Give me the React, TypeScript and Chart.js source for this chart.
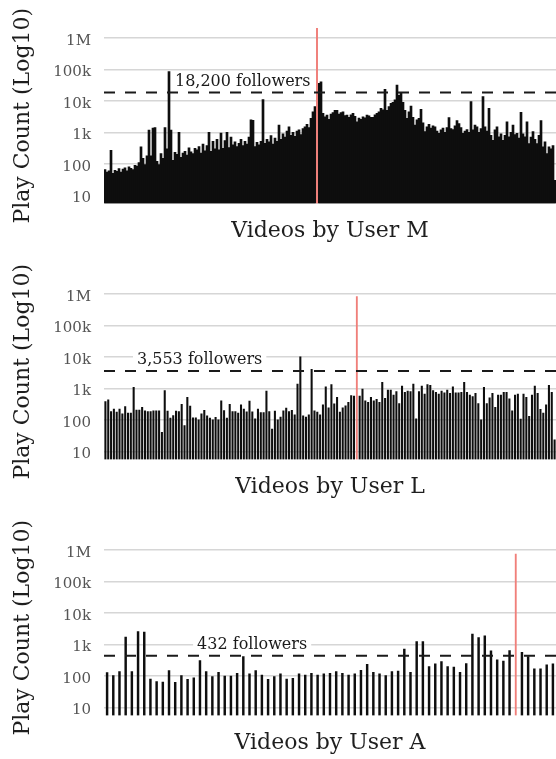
import React, { useEffect, useRef } from "react";
import { Chart, registerables } from "chart.js";

Chart.register(...registerables);

// ---------- shared axis ticks ----------
const tickValues = [10, 100, 1000, 10000, 100000, 1000000];
const tickLabels = ["10", "100", "1k", "10k", "100k", "1M"];

// ---------- User M ----------
const userMPlays = [
  65, 55, 60, 270, 50, 62, 58, 70, 55, 68,
  75, 60, 80, 72, 65, 90, 85, 110, 345, 150,
  95, 180, 1170, 180, 1350, 1400, 120, 95, 210, 150,
  1400, 300, 85000, 1170, 130, 230, 200, 1000, 160, 220,
  250, 190, 320, 240, 210, 310, 280, 350, 220, 420,
  260, 380, 1000, 250, 520, 300, 600, 280, 950, 310,
  550, 1000, 330, 700, 400, 500, 350, 450, 600, 380,
  520, 420, 700, 2500, 2400, 350, 480, 400, 520, 11000,
  450, 600, 500, 780, 420, 650, 520, 1700, 600, 900,
  700, 1100, 1500, 800, 1000, 750, 1100, 1200, 850, 1300,
  1500, 1800, 1400, 2750, 4500, 6500, 2000000, 36000, 40000, 4000,
  3100, 3500, 2600, 3800, 4200, 5000, 5000, 3800, 4200, 4500,
  3400, 3500, 3000, 3600, 4000, 3200, 2150, 2800, 2600, 3100,
  2900, 3500, 3300, 3000, 3000, 3600, 4000, 4500, 5800, 5200,
  23000, 5000, 6500, 8300, 9000, 10700, 31600, 15000, 18000, 9000,
  5000, 2750, 4500, 6800, 3000, 1700, 2500, 2750, 5400, 2000,
  1050, 1500, 1800, 1350, 1600, 1500, 1100, 920, 1200, 1350,
  1000, 1400, 2950, 1300, 1230, 1600, 2350, 1900, 1400, 920,
  1100, 1230, 1000, 9400, 1200, 1700, 1500, 1000, 1300, 13500,
  1500, 1100, 5800, 800, 560, 1200, 1500, 720, 900, 560,
  800, 2150, 720, 1000, 1700, 850, 920, 650, 4300, 900,
  720, 2150, 440, 700, 1050, 600, 440, 800, 2350, 345,
  500, 210, 345, 300, 380, 30,
];
const userMHighlight = 106;
const userMFollowers = 18200;

// ---------- User L ----------
const userLPlays = [
  380, 430, 183, 220, 175, 220, 155, 265, 162, 162,
  1070, 205, 205, 250, 192, 183, 183, 192, 192, 192,
  40, 840, 188, 113, 137, 188, 183, 310, 65, 520,
  275, 116, 116, 100, 155, 200, 134, 113, 100, 119,
  100, 400, 197, 113, 310, 183, 183, 162, 300, 220,
  179, 390, 179, 107, 220, 170, 170, 820, 183, 51,
  188, 100, 121, 192, 235, 183, 200, 144, 1370, 10000,
  134, 121, 144, 4000, 192, 175, 144, 300, 1120, 240,
  1300, 320, 520, 175, 240, 280, 360, 585, 570, 820000,
  570, 950, 400, 360, 520, 400, 450, 360, 1550, 480,
  880, 880, 610, 780, 330, 1180, 740, 820, 780, 1350,
  107, 780, 1180, 660, 1300, 1240, 840, 740, 660, 820,
  720, 880, 690, 1120, 720, 720, 740, 1550, 740, 610,
  545, 690, 330, 100, 1070, 330, 500, 690, 250, 610,
  610, 740, 740, 460, 192, 610, 660, 105, 660, 520,
  128, 610, 1180, 690, 215, 162, 300, 1240, 740, 23,
];
const userLHighlight = 89;
const userLFollowers = 3553;

// ---------- User A ----------
const userAPlays = [
  126, 101, 136, 1680, 136, 2540, 2450, 79, 65, 63,
  146, 62, 101, 77, 87, 302, 136, 94, 130, 98,
  98, 120, 407, 115, 146, 105, 77, 94, 115, 79,
  83, 115, 105, 120, 105, 115, 120, 136, 120, 105,
  115, 150, 233, 130, 115, 101, 136, 141, 700, 130,
  1220, 1220, 195, 238, 282, 195, 188, 130, 245, 2100,
  1630, 1850, 616, 319, 295, 630, 733000, 560, 407, 165,
  165, 221, 238,
];
const userAHighlight = 66;
const userAFollowers = 432;

const FONT = "'DejaVu Serif', serif";
const BAR_COLOR = "#0e0e0e";
const HIGHLIGHT_COLOR = "#f07f7a";

type PanelDef = {
  user: string;
  plays: number[];
  highlight: number;
  followers: number;
  labelFrac: number;
  barW: number;
  hiW: number;
};

const panels: PanelDef[] = [
  { user: "M", plays: userMPlays, highlight: userMHighlight, followers: userMFollowers, labelFrac: 0.157, barW: 2, hiW: 1.3 },
  { user: "L", plays: userLPlays, highlight: userLHighlight, followers: userLFollowers, labelFrac: 0.073, barW: 1.4, hiW: 1.2 },
  { user: "A", plays: userAPlays, highlight: userAHighlight, followers: userAFollowers, labelFrac: 0.206, barW: 1.8, hiW: 1.2 },
];

const followerLinePlugin = {
  id: "followerLine",
  afterDatasetsDraw(chart: any, _args: any, opts: any) {
    const { ctx, chartArea, scales } = chart;
    const y = scales.y.getPixelForValue(opts.value);
    ctx.save();
    ctx.strokeStyle = "#1a1a1a";
    ctx.lineWidth = 2;
    ctx.setLineDash([11, 10]);
    ctx.beginPath();
    ctx.moveTo(chartArea.left, y);
    ctx.lineTo(chartArea.right, y);
    ctx.stroke();
    ctx.setLineDash([]);
    ctx.font = `16px ${FONT}`;
    const text: string = opts.text;
    const w = ctx.measureText(text).width;
    const x = chartArea.left + opts.frac * (chartArea.right - chartArea.left);
    const cy = y - 11;
    ctx.fillStyle = "#ffffff";
    ctx.fillRect(x - 4, cy - 8, w + 8, 16);
    ctx.fillStyle = "#1a1a1a";
    ctx.textBaseline = "middle";
    ctx.textAlign = "left";
    ctx.fillText(text, x, cy);
    ctx.restore();
  },
};

function Panel({ def }: { def: PanelDef }) {
  const ref = useRef<HTMLCanvasElement | null>(null);
  useEffect(() => {
    if (!ref.current) return;
    const labels = def.plays.map((_, i) => String(i + 1));
    const black = def.plays.map((v, i) => (i === def.highlight ? null : v));
    const red = def.plays.map((v, i) => (i === def.highlight ? v : null));
    const chart = new Chart(ref.current, {
      type: "bar",
      data: {
        labels,
        datasets: [
          { data: red, backgroundColor: HIGHLIGHT_COLOR, barThickness: def.hiW, grouped: false } as any,
          { data: black, backgroundColor: BAR_COLOR, barThickness: def.barW, grouped: false } as any,
        ],
      },
      options: {
        responsive: false,
        animation: false,
        devicePixelRatio: 1,
        layout: { padding: { top: 28, left: 0, right: 0, bottom: 0 } },
        plugins: {
          legend: { display: false },
          tooltip: { enabled: false },
          followerLine: {
            value: def.followers,
            text: `${def.followers.toLocaleString("en-US")} followers`,
            frac: def.labelFrac,
          },
        } as any,
        scales: {
          x: {
            type: "category",
            offset: true,
            grid: { display: false },
            border: { display: false },
            ticks: { display: false },
            title: {
              display: true,
              text: `Videos by User ${def.user}`,
              font: { family: FONT, size: 22 },
              color: "#1e1e1e",
              padding: { top: 0, bottom: 12 },
            },
            afterFit: (s: any) => {
              s.height = 52.5;
            },
          },
          y: {
            type: "logarithmic",
            min: 5.5,
            max: 2040000,
            afterBuildTicks: (s: any) => {
              s.ticks = tickValues.map((v) => ({ value: v }));
            },
            ticks: {
              callback: (v: any) => {
                const k = tickValues.indexOf(Number(v));
                return k >= 0 ? tickLabels[k] : "";
              },
              font: { family: FONT, size: 15 },
              color: "#555555",
              padding: 13,
              labelOffset: 3,
            },
            grid: { color: "#d6d6d6", lineWidth: 1.5, drawTicks: false },
            border: { display: false },
            title: {
              display: true,
              text: "Play Count (Log10)",
              font: { family: FONT, size: 22 },
              color: "#1e1e1e",
              padding: { top: 10, bottom: 0 },
            },
            afterFit: (s: any) => {
              s.width = 104;
            },
          },
        } as any,
      },
      plugins: [followerLinePlugin as any],
    });
    return () => chart.destroy();
  }, [def]);
  return (
    <div style={{ width: 556, height: 256, position: "relative" }}>
      <canvas ref={ref} width={556} height={256} style={{ display: "block", width: 556, height: 256 }} />
    </div>
  );
}

export default function App() {
  return (
    <div
      style={{
        position: "absolute",
        left: 0,
        top: 0,
        width: 556,
        height: 759,
        overflow: "hidden",
        background: "#ffffff",
      }}
    >
      {panels.map((p) => (
        <Panel key={p.user} def={p} />
      ))}
    </div>
  );
}
